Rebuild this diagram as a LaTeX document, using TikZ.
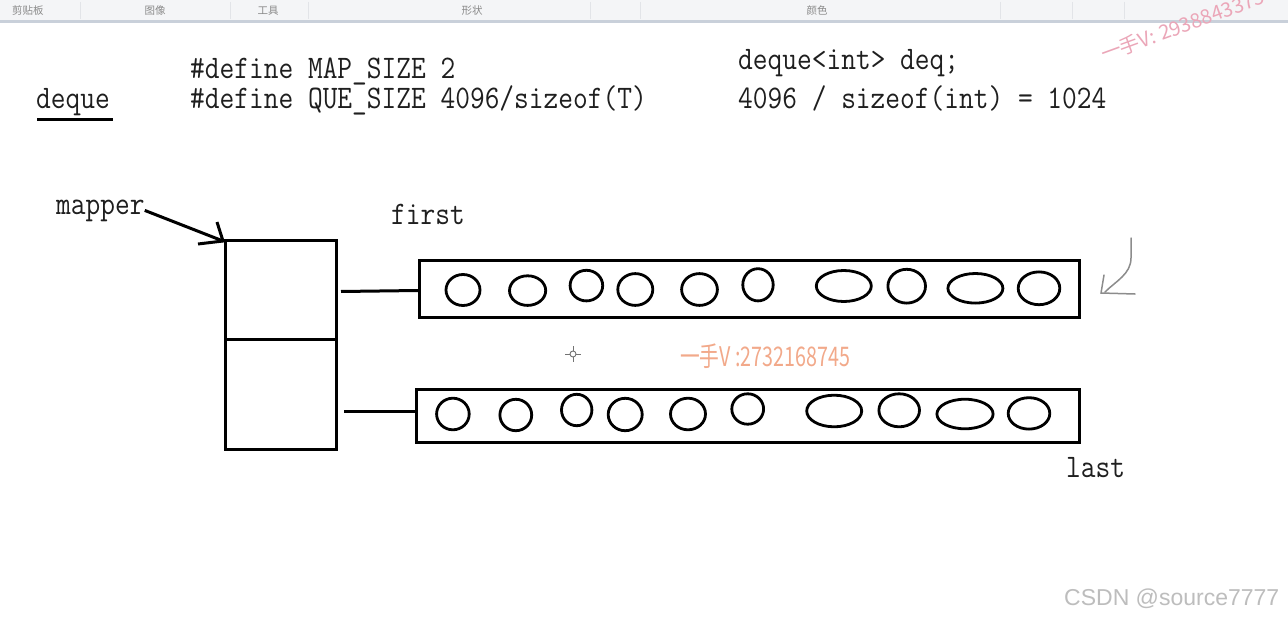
\documentclass[tikz,border=0pt]{standalone}
\usepackage{fontspec}
\newfontfamily\cjk{Noto Sans CJK SC}
\newfontfamily\csdnfont{Liberation Sans}
\definecolor{tbbg}{HTML}{F4F5F7}
\definecolor{tbline}{HTML}{C9D0DA}
\definecolor{tbsep}{HTML}{E2E4E8}
\definecolor{tbtext}{HTML}{8A8A8A}
\definecolor{wmpink}{HTML}{EBA6B8}
\definecolor{wmsalmon}{HTML}{F2A98A}
\definecolor{penGray}{HTML}{8C8C8C}
\definecolor{csdngray}{HTML}{BDBDBD}
\begin{document}
\begin{tikzpicture}[x=1pt,y=1pt,
  code/.style={inner sep=0pt, anchor=base west, text=black!88,
    font=\ttfamily\fontsize{28.6}{30}\selectfont},
  boxline/.style={draw, line width=3pt, inner sep=0pt, anchor=north west},
  ell/.style={line width=2.8pt},
  conn/.style={line width=3pt},
  tblabel/.style={inner sep=0pt, text=tbtext, font=\cjk\fontsize{10.5}{12}\selectfont}]
\useasboundingbox (0,0) rectangle (1288,-618);
\fill[white] (0,0) rectangle (1288,-618);
\begin{scope}
\clip (0,0) rectangle (1288,-618);
% toolbar
\fill[tbbg] (0,0) rectangle (1288,-20.5);
\fill[tbline] (0,-20.5) rectangle (1288,-23.5);
\foreach \sx in {80,230,308,590,640,1000,1072,1124}
  \draw[tbsep, line width=0.8pt] (\sx,-2) -- (\sx,-19);
\node[tblabel] (tb1) at (28,-11) {剪贴板};
\node[tblabel] (tb2) at (155,-11) {图像};
\node[tblabel] (tb3) at (268,-11) {工具};
\node[tblabel] (tb4) at (472,-11) {形状};
\node[tblabel] (tb5) at (817,-11) {颜色};
% watermark top right
\node[inner sep=0pt, anchor=base west, rotate=20, text=wmpink,
  font=\cjk\fontsize{20}{22}\selectfont] (wm1) at (1104,-62) {一手V: 2938843375};
\end{scope}

% header texts
\node[code] (deq) at (36,-108) {\scalebox{1}[1.15]{deque}};
\draw[line width=3pt] (37,-119) -- (113,-119);
\node[code] (def1) at (190,-78) {\scalebox{1}[1.15]{\#define MAP\_SIZE 2}};
\node[code] (def2) at (190,-108) {\scalebox{1}[1.15]{\#define QUE\_SIZE 4096/sizeof(T)}};
\node[code] (ex1) at (738,-70) {\scalebox{1}[1.15]{deque<int> deq;}};
\node[code] (ex2) at (738,-108) {\scalebox{1}[1.15]{4096 / sizeof(int) = 1024}};

% labels
\node[code] (mapper) at (56,-214) {\scalebox{1}[1.15]{mapper}};
\node[code] (first) at (391,-224) {\scalebox{1}[1.15]{first}};
\node[code] (last) at (1066,-477) {\scalebox{1}[1.15]{last}};

% mapper cells
\node[boxline, minimum width=111pt, minimum height=99pt] (m1) at (224,-239) {};
\node[boxline, minimum width=111pt, minimum height=110pt] (m2) at (224,-338) {};

% arrays
\node[boxline, minimum width=660pt, minimum height=57pt] (a1) at (418,-259) {};
\node[boxline, minimum width=663pt, minimum height=53pt] (a2) at (415,-388) {};

% mapper arrow (hand drawn head)
\coordinate (tip) at ([xshift=-1pt,yshift=-2pt]m1.north west);
\draw[line width=3pt] (mapper.east) -- (tip);
\draw[line width=3pt] ([xshift=-6pt,yshift=19pt]tip) -- (tip) -- ([xshift=-25pt,yshift=-3pt]tip);

% connectors
\draw[conn] ([xshift=3pt,yshift=-1.5pt]m1.east) -- ([yshift=-1.5pt]a1.west);
\draw[conn] ([xshift=6pt]m2.east |- 0,-411) -- (a2.west |- 0,-411);

% elements
\foreach \ex/\ey/\ea/\eb in {463/290/17/15.5, 527.6/290.6/18.1/14.8, 586.4/285.6/16.3/15.3,
  635.3/289.5/17.5/15.9, 699.5/289.5/17.9/15.9, 758/284.8/15.2/16.1, 843.8/286/27.5/15.5,
  906.7/286.2/18.8/16.9, 975.4/288.3/27.5/14.8, 1039/288.3/20.8/16.4}
  \draw[ell] (\ex,-\ey) ellipse [x radius=\ea pt, y radius=\eb pt];
\foreach \ex/\ey/\ea/\eb in {452.9/414/16.3/15.8, 515.8/415/15.9/15.7, 576.7/410/15.2/15.7,
  625.2/414.5/17/16.2, 688/414/17.5/15.8, 747.7/409/15.9/15.2, 834.2/411/27.5/15.8,
  899.2/410.3/20.3/16.5, 965/414/28.1/14.8, 1029/413.4/20.8/15.7}
  \draw[ell] (\ex,-\ey) ellipse [x radius=\ea pt, y radius=\eb pt];

% hand-drawn gray arrow on the right
\draw[penGray, line width=1.5pt, line cap=round] (1131,-238) -- (1131,-258)
  .. controls (1131,-274) and (1116,-281) .. (1105,-292);
\draw[penGray, line width=1.5pt, line cap=round] (1104,-275) -- (1101,-293) -- (1135,-294);

% cursor
\draw[black!55, line width=0.9pt] (573,-354) circle [radius=3pt];
\draw[black!55, line width=0.9pt] (573,-346) -- (573,-351) (573,-357) -- (573,-362)
  (565,-354) -- (570,-354) (576,-354) -- (581,-354);

% center watermark
\node[inner sep=0pt, anchor=base west, text=wmsalmon,
  font=\cjk\fontsize{27}{30}\selectfont] (wm2) at (680,-366) {\scalebox{0.73}[1]{一手V :2732168745}};

% CSDN
\node[inner sep=0pt, anchor=base west, text=csdngray,
  font=\csdnfont\fontsize{23}{26}\selectfont] (csdn) at (1064,-605) {CSDN @source7777};
\end{tikzpicture}
\end{document}
